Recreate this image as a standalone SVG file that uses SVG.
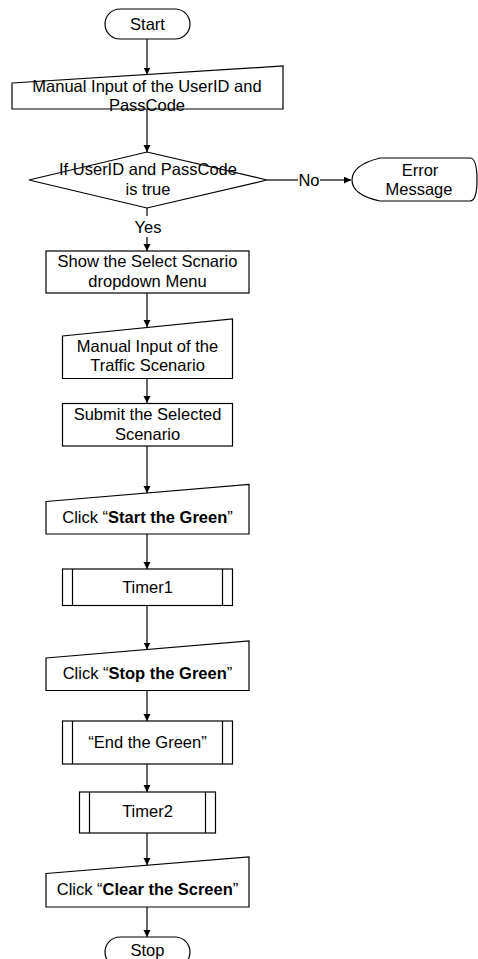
<svg xmlns="http://www.w3.org/2000/svg" width="478" height="959" viewBox="0 0 478 959">
<style>
.s{fill:#fff;stroke:#000;stroke-width:1.2}
.c{fill:none;stroke:#000;stroke-width:1.2}
text{font-family:"Liberation Sans",Arial,sans-serif;font-size:16.5px;fill:#000;text-anchor:middle}
.b{font-weight:bold}
</style>
<defs>
<marker id="ah" markerUnits="userSpaceOnUse" markerWidth="8" markerHeight="8" refX="7" refY="3.5" orient="auto">
<path d="M0,0 L7,3.5 L0,7 Z" fill="#000"/>
</marker>
</defs>
<rect width="478" height="959" fill="#fff"/>
<g id="connectors">
<line class="c" x1="147" y1="39" x2="147" y2="74.5" marker-end="url(#ah)"/>
<line class="c" x1="147" y1="109" x2="147" y2="152" marker-end="url(#ah)"/>
<line class="c" x1="267" y1="180" x2="298" y2="180"/>
<line class="c" x1="320" y1="180" x2="351" y2="180" marker-end="url(#ah)"/>
<line class="c" x1="147" y1="208" x2="147" y2="216"/>
<line class="c" x1="147" y1="237" x2="147" y2="251" marker-end="url(#ah)"/>
<line class="c" x1="147" y1="293" x2="147" y2="327" marker-end="url(#ah)"/>
<line class="c" x1="147" y1="378" x2="147" y2="403" marker-end="url(#ah)"/>
<line class="c" x1="147" y1="446" x2="147" y2="493" marker-end="url(#ah)"/>
<line class="c" x1="147" y1="534" x2="147" y2="569" marker-end="url(#ah)"/>
<line class="c" x1="147" y1="606" x2="147" y2="649.5" marker-end="url(#ah)"/>
<line class="c" x1="147" y1="690" x2="147" y2="721" marker-end="url(#ah)"/>
<line class="c" x1="147" y1="764" x2="147" y2="792" marker-end="url(#ah)"/>
<line class="c" x1="147" y1="833" x2="147" y2="865" marker-end="url(#ah)"/>
<line class="c" x1="147" y1="907" x2="147" y2="937" marker-end="url(#ah)"/>
<text x="309" y="186">No</text>
<text x="148" y="233">Yes</text>
</g>
<g id="start">
<rect class="s" x="105" y="9" width="85" height="30" rx="15"/>
<text x="147.5" y="30">Start</text>
</g>
<g id="input1">
<path class="s" d="M12,83 L283,66 L283,109 L12,109 Z"/>
<text x="147" y="92">Manual Input of the UserID and</text>
<text x="147" y="111">PassCode</text>
</g>
<g id="decision">
<path class="s" d="M147,152 L267,180 L147,208 L29,180 Z"/>
<text x="148" y="175">If UserID and PassCode</text>
<text x="148" y="194.5">is true</text>
</g>
<g id="error">
<path class="s" d="M380,158 L470,158 Q477,158 477,180 Q477,201 470,201 L380,201 Q352,195 352,180 Q352,165 380,158 Z"/>
<text x="420" y="176">Error</text>
<text x="419" y="195">Message</text>
</g>
<g id="show">
<rect class="s" x="46" y="251" width="203" height="42"/>
<text x="147.5" y="267">Show the Select Scnario</text>
<text x="147.5" y="287">dropdown Menu</text>
</g>
<g id="input2">
<path class="s" d="M62.5,336 L232.5,319 L232.5,378.5 L62.5,378.5 Z"/>
<text x="147.5" y="352">Manual Input of the</text>
<text x="147.5" y="371">Traffic Scenario</text>
</g>
<g id="submit">
<rect class="s" x="62.5" y="403.5" width="170" height="42.5"/>
<text x="147.5" y="420">Submit the Selected</text>
<text x="147.5" y="440">Scenario</text>
</g>
<g id="clickStart">
<path class="s" d="M46,501.5 L249,484.5 L249,534 L46,534 Z"/>
<text x="147.5" y="523">Click “<tspan class="b">Start the Green</tspan>”</text>
</g>
<g id="timer1">
<rect class="s" x="62.5" y="569" width="170" height="36.5"/>
<line class="c" x1="72.5" y1="569" x2="72.5" y2="605.5"/>
<line class="c" x1="222.5" y1="569" x2="222.5" y2="605.5"/>
<text x="147.5" y="593">Timer1</text>
</g>
<g id="clickStop">
<path class="s" d="M46,658 L249,641 L249,690.5 L46,690.5 Z"/>
<text x="147.5" y="678.5">Click “<tspan class="b">Stop the Green</tspan>”</text>
</g>
<g id="endGreen">
<rect class="s" x="62.5" y="721" width="170" height="43"/>
<line class="c" x1="72.5" y1="721" x2="72.5" y2="764"/>
<line class="c" x1="222.5" y1="721" x2="222.5" y2="764"/>
<text x="147.5" y="747.5">“End the Green”</text>
</g>
<g id="timer2">
<rect class="s" x="79.5" y="792" width="136" height="41"/>
<line class="c" x1="89.5" y1="792" x2="89.5" y2="833"/>
<line class="c" x1="205.5" y1="792" x2="205.5" y2="833"/>
<text x="147.5" y="817">Timer2</text>
</g>
<g id="clickClear">
<path class="s" d="M46,873.5 L249,857 L249,907 L46,907 Z"/>
<text x="147.5" y="895">Click “<tspan class="b">Clear the Screen</tspan>”</text>
</g>
<g id="stop">
<rect class="s" x="105" y="937" width="85" height="30" rx="15"/>
<text x="147.5" y="956">Stop</text>
</g>
</svg>
